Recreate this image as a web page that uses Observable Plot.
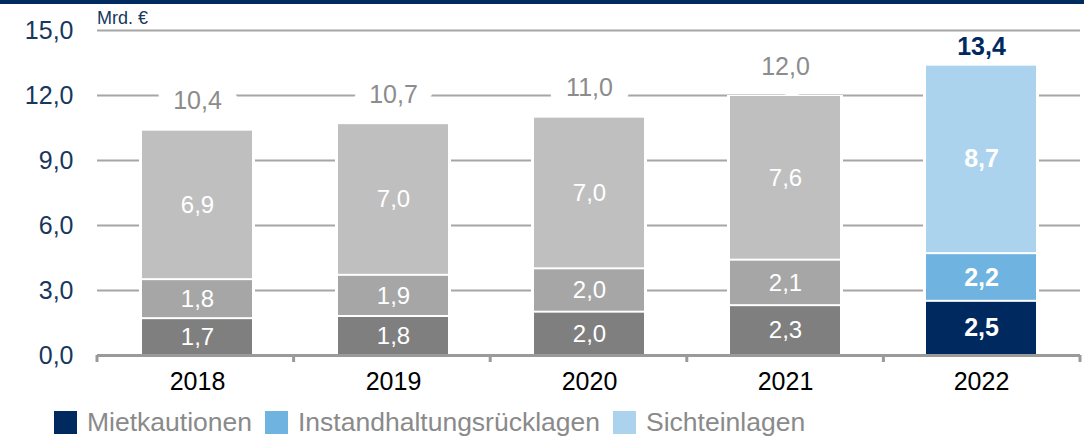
<!DOCTYPE html>
<html><head><meta charset="utf-8">
<script src="https://cdn.jsdelivr.net/npm/d3@7"></script>
<script src="https://cdn.jsdelivr.net/npm/@observablehq/plot@0.6"></script>
<style>
body{margin:0;background:#fff;font-family:"Liberation Sans",Arial,sans-serif;}
#wrap{position:relative;width:1084px;height:437px;overflow:hidden;}
#topbar{position:absolute;left:0;top:0;width:1084px;height:4px;background:#002b5e;}
#chart{position:absolute;left:0;top:0;}
#unit{position:absolute;left:97px;top:8px;font-size:18px;color:#17375e;}
#legend{position:absolute;left:54px;top:407px;display:flex;align-items:center;font-size:26.5px;color:#8a8a8a;white-space:nowrap;}
.item{display:flex;align-items:center;margin-right:13px;}
.sw{width:23px;height:23px;display:inline-block;margin-right:10px;}
</style></head>
<body>
<div id="wrap">
  <div id="chart"></div>
  <div id="topbar"></div>
  <div id="unit">Mrd. €</div>
  <div id="legend"></div>
</div>
<script>
const years = ["2018", "2019", "2020", "2021", "2022"];
const seriesNames = ["Mietkautionen", "Instandhaltungsrücklagen", "Sichteinlagen"];
const mietkautionen = [1.7, 1.8, 2.0, 2.3, 2.5];
const instandhaltung = [1.8, 1.9, 2.0, 2.1, 2.2];
const sichteinlagen = [6.9, 7.0, 7.0, 7.6, 8.7];
const totals = [10.4, 10.7, 11.0, 12.0, 13.4];
const yTicks = [0, 3, 6, 9, 12, 15];
const highlightYear = "2022";

const greyColors = ["#7f7f7f", "#a6a6a6", "#bfbfbf"];
const blueColors = ["#002960", "#6fb4e0", "#abd3ee"];
const navy = "#17375e";

const seriesValues = [mietkautionen, instandhaltung, sichteinlagen];
const rows = years.flatMap((year, i) =>
  seriesValues.map((arr, s) => ({year, s, series: seriesNames[s], value: arr[i]})));
const totalRows = years.map((year, i) => ({year, total: totals[i]}));
const fmt = v => v.toFixed(1).replace(".", ",");
const colorOf = d => (d.year === highlightYear ? blueColors : greyColors)[d.s];

function boundaryTicks(index, scales, values, dimensions) {
  const {width, marginLeft, marginRight} = dimensions;
  const step = (width - marginLeft - marginRight) / years.length;
  const y0 = scales.y(0);
  const g = d3.create("svg:g");
  g.selectAll("line").data(d3.range(years.length + 1)).join("line")
    .attr("x1", i => marginLeft + i * step).attr("x2", i => marginLeft + i * step)
    .attr("y1", y0).attr("y2", y0 + 7)
    .attr("stroke", "#9a9a9a").attr("stroke-width", 3);
  return g.node();
}

const oldRows = rows.filter(d => d.year !== highlightYear);
const hiRows = rows.filter(d => d.year === highlightYear);

const chart = Plot.plot({
  width: 1084,
  height: 400,
  marginTop: 30,
  marginBottom: 45,
  marginLeft: 97,
  marginRight: 4,
  style: {fontFamily: "'Liberation Sans', Arial, sans-serif", background: "white"},
  x: {domain: years, paddingInner: 0.44, paddingOuter: 0.22},
  y: {domain: [0, 15]},
  color: {type: "identity"},
  marks: [
    Plot.gridY(yTicks.filter(v => v > 0), {stroke: "#a6a6a6", strokeOpacity: 1, strokeWidth: 2}),
    Plot.text(totalRows.filter(d => d.year !== highlightYear), {
      x: "year", y: "total", text: d => fmt(d.total), dy: -29, fontSize: 25,
      fill: "#8c8c8c", stroke: "white", strokeWidth: 34, strokeLinejoin: "round", paintOrder: "stroke"
    }),
    Plot.barY(totalRows, {x: "year", y: "total", fill: "white", insetLeft: -3, insetRight: -3}),
    Plot.barY(rows, {x: "year", y: "value", z: "s", fill: colorOf, insetTop: 1, insetBottom: 1}),
    Plot.text(oldRows, Plot.stackY({x: "year", y: "value", z: "s", text: d => fmt(d.value), fill: "white", fontSize: 24})),
    Plot.text(hiRows, Plot.stackY({x: "year", y: "value", z: "s", text: d => fmt(d.value), fill: "white", fontSize: 25, fontWeight: "bold"})),
    Plot.text(totalRows.filter(d => d.year === highlightYear), {
      x: "year", y: "total", text: d => fmt(d.total), dy: -18, fontSize: 25, fontWeight: "bold", fill: "#002960"
    }),
    Plot.ruleY([0], {stroke: "#9a9a9a", strokeWidth: 3}),
    boundaryTicks,
    Plot.axisX({tickSize: 0, tickPadding: 17, fontSize: 25, color: "black", label: null}),
    Plot.axisY({ticks: yTicks, tickSize: 0, tickPadding: 24, tickFormat: fmt, fontSize: 25, color: navy, label: null})
  ]
});
document.getElementById("chart").appendChild(chart);

const legend = document.getElementById("legend");
seriesNames.forEach((name, s) => {
  const item = document.createElement("div");
  item.className = "item";
  const sw = document.createElement("span");
  sw.className = "sw";
  sw.style.background = blueColors[s];
  const label = document.createElement("span");
  label.textContent = name;
  item.appendChild(sw);
  item.appendChild(label);
  legend.appendChild(item);
});
</script>
</body></html>
